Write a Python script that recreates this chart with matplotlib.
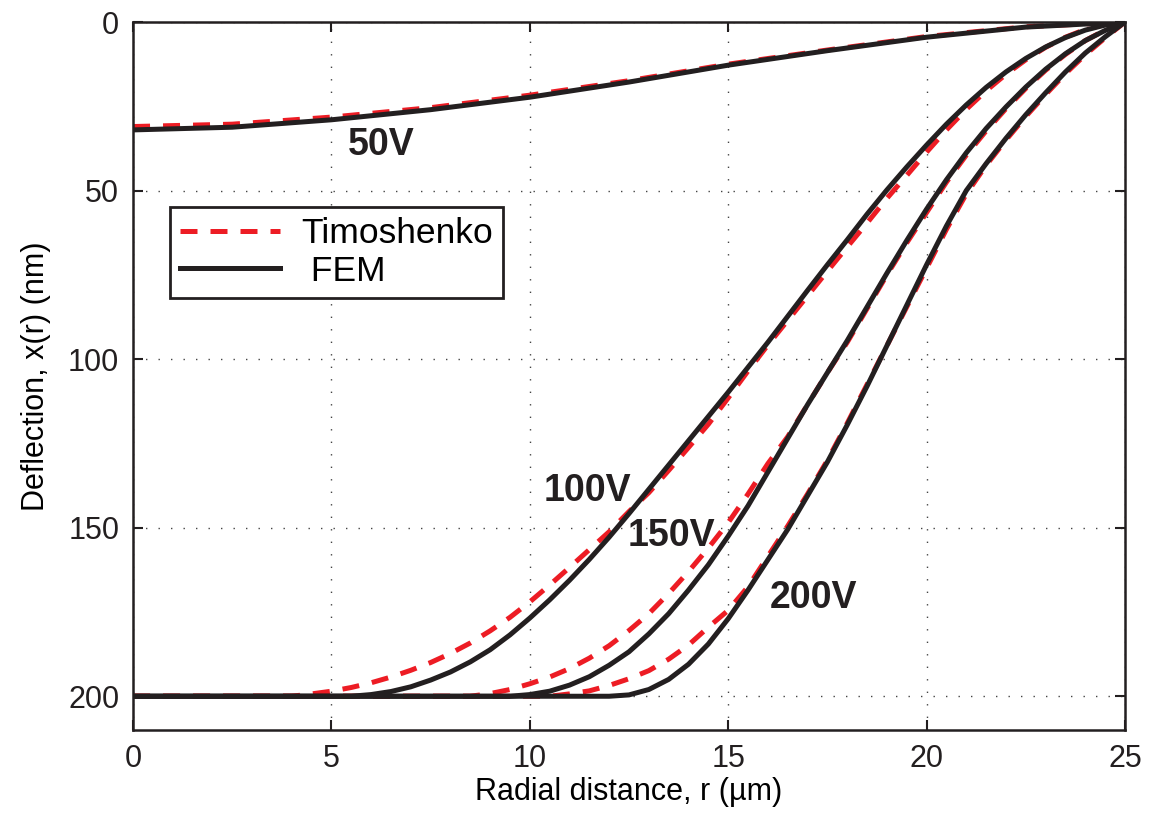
import numpy as np
import matplotlib.pyplot as plt

# radial positions (um) and deflections (nm)
r_50 = [0, 2.5, 5, 7.5, 10, 12.5, 15, 17.5, 20, 22.5, 25]
d_50_fem = [32, 31.2, 29, 26, 22.3, 17.8, 12.8, 8.5, 4.5, 1.5, 0]
d_50_tim = [31, 30.3, 28.2, 25.4, 21.7, 17.4, 12.5, 8.3, 4.3, 1.4, 0]

r_100_fem = [0, 5.5, 6, 6.5, 7, 7.5, 8, 8.5, 9, 9.5, 10, 10.5, 11, 11.5, 12, 12.5, 13,
             13.5, 14, 14.5, 15, 15.5, 16, 16.5, 17, 17.5, 18, 18.5, 19, 19.5, 20,
             20.5, 21, 21.5, 22, 22.5, 23, 23.5, 24, 24.5, 25]
d_100_fem = [200, 200, 199.5, 198.6, 197.2, 195.2, 192.8, 189.8, 186.2, 181.8, 176.8,
             171.4, 165.6, 159.4, 152.8, 145.8, 138.6, 131.4, 124.2, 117, 109.8, 102.4,
             95, 87.3, 79.6, 72, 64.6, 57, 49.8, 43, 36.5, 30.3, 24.6, 19.4, 14.8,
             10.8, 7.4, 4.6, 2.4, 0.9, 0]
r_100_tim = [0, 4, 4.5, 5, 5.5, 6, 6.5, 7, 7.5, 8, 8.5, 9, 9.5, 10, 10.5, 11, 11.5, 12,
             12.5, 13, 13.5, 14, 14.5, 15, 15.5, 16, 16.5, 17, 17.5, 18, 18.5, 19,
             19.5, 20, 20.5, 21, 21.5, 22, 22.5, 23, 23.5, 24, 24.5, 25]
d_100_tim = [200, 200, 199.3, 198.5, 197.4, 196, 194.3, 192.3, 190, 187.3, 184.2,
             180.6, 176.6, 172, 167, 161.8, 156.5, 151.2, 145.2, 139.6, 133, 126.2,
             119.3, 111.5, 103.5, 95.8, 88.5, 81.2, 73.9, 66.7, 59.6, 52.3, 45.5, 38.6,
             32, 25.9, 20.4, 15.5, 11.2, 7.5, 4.5, 2.2, 0.7, 0]

r_150_fem = [0, 9.5, 10, 10.5, 11, 11.5, 12, 12.5, 13, 13.5, 14, 14.5, 15, 15.5, 16,
             16.5, 17, 17.5, 18, 18.5, 19, 19.5, 20, 20.5, 21, 21.5, 22, 22.5, 23,
             23.5, 24, 24.5, 25]
d_150_fem = [200, 200, 199.5, 198.5, 196.7, 194.2, 190.8, 186.8, 181.5, 175.5, 168.5,
             161, 152.5, 143.5, 133.5, 123.5, 113.5, 104, 94.5, 84.5, 74.5, 64.8, 55.5,
             46.8, 38.8, 31.6, 25.2, 19.3, 14, 9.4, 5.5, 2.5, 0]
r_150_tim = [0, 8.5, 9, 9.5, 10, 10.5, 11, 11.5, 12, 12.5, 13, 13.5, 14, 14.5, 15,
             15.5, 16, 16.5, 17, 17.5, 18, 18.5, 19, 19.5, 20, 20.5, 21, 21.5, 22,
             22.5, 23, 23.5, 24, 24.5, 25]
d_150_tim = [200, 200, 199.2, 198, 196.3, 194.3, 191.8, 188.7, 185, 180.5, 175.5,
             169.5, 163, 156, 148.5, 140, 131, 123, 113.5, 104, 95, 85, 75, 65.5, 56.5,
             47.5, 39.5, 32.3, 25.7, 19.7, 14.3, 9.6, 5.5, 2.4, 0]

r_200_fem = [0, 12, 12.5, 13, 13.5, 14, 14.5, 15, 15.5, 16, 16.5, 17, 17.5, 18, 18.5,
             19, 19.5, 20, 20.5, 21, 21.5, 22, 22.5, 23, 23.5, 24, 24.5, 25]
d_200_fem = [200, 200, 199.6, 198, 195, 190.5, 184.5, 177, 168.5, 159.5, 150.5, 140.5,
             130.5, 119.5, 108, 96, 84, 72, 60.5, 50, 42, 34.5, 27.5, 21, 14.8, 9.2,
             4.4, 0]
r_200_tim = [0, 10.5, 11, 11.5, 12, 12.5, 13, 13.5, 14, 14.5, 15, 15.5, 16, 16.5, 17,
             17.5, 18, 18.5, 19, 19.5, 20, 20.5, 21, 21.5, 22, 22.5, 23, 23.5, 24,
             24.5, 25]
d_200_tim = [200, 200, 199.3, 198.4, 196.8, 194.8, 192.4, 189, 184.8, 179.5, 174.5,
             167.5, 158.5, 149.5, 140, 130, 119, 107.5, 96, 84.5, 73, 61.5, 51, 42.5,
             35, 28, 21.5, 15.3, 9.7, 4.7, 0]

labels = ['50V', '100V', '150V', '200V']
label_pos = [(6.25, 36.4), (11.44, 139), (13.58, 152.6), (17.16, 171)]

red = '#ED1C24'
black = '#231F20'
font = ['Liberation Sans', 'DejaVu Sans']

fig = plt.figure(figsize=(11.53, 8.25), dpi=100)
ax = fig.add_axes([0.1154, 0.1152, 0.8603, 0.8581])

series = [(r_50, d_50_fem, r_50, d_50_tim),
          (r_100_fem, d_100_fem, r_100_tim, d_100_tim),
          (r_150_fem, d_150_fem, r_150_tim, d_150_tim),
          (r_200_fem, d_200_fem, r_200_tim, d_200_tim)]
for i, (rf, df, rt, dt) in enumerate(series):
    ax.plot(rf, df, color=black, lw=3.6, solid_joinstyle='round',
            label=' FEM' if i == 0 else None, zorder=3)
    ax.plot(rt, dt, color=red, lw=3.6, dashes=(3.4, 2.6),
            label='Timoshenko' if i == 0 else None, zorder=2)

for lab, (x, y) in zip(labels, label_pos):
    ax.text(x, y, lab, ha='center', va='center', fontsize=27, fontweight='bold',
            family=font, color=black)

ax.set_xlim(0, 25)
ax.set_ylim(210, 0)
ax.set_xticks([0, 5, 10, 15, 20, 25])
ax.set_yticks([0, 50, 100, 150, 200])
ax.grid(True, color='#444444', lw=1.0, linestyle=(0, (1, 8)))
ax.tick_params(direction='in', length=7, width=1.5, top=True, right=True,
               labelsize=22, pad=10, colors=black)
for lab in ax.get_xticklabels() + ax.get_yticklabels():
    lab.set_family(font)
for s in ax.spines.values():
    s.set_linewidth(1.8)
    s.set_color(black)

ax.set_xlabel('Radial distance, r (\u00b5m)', fontsize=22, family=font, labelpad=2)
ax.set_ylabel('Deflection, x(r) (nm)', fontsize=22, family=font, labelpad=12)

handles, hl = ax.get_legend_handles_labels()
order = [hl.index('Timoshenko'), hl.index(' FEM')]
leg = ax.legend([handles[k] for k in order], [hl[k] for k in order],
                loc='upper left', bbox_to_anchor=(0.037, 0.739), borderaxespad=0,
                prop={'family': font, 'size': 25.5},
                fancybox=False, framealpha=1, edgecolor=black,
                handlelength=2.8, handletextpad=0.6, borderpad=0.3,
                labelspacing=0.12)
leg.get_frame().set_linewidth(2)

fig.savefig('out.png', dpi=100)
